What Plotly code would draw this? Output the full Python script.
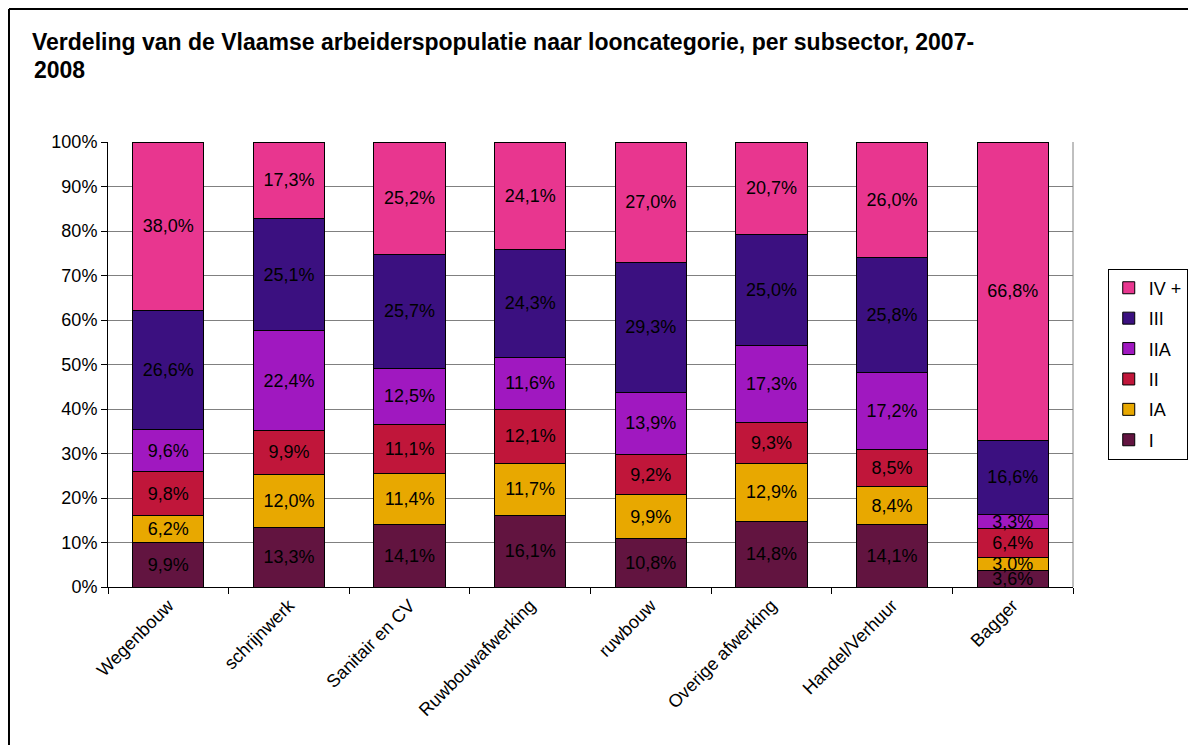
import plotly.graph_objects as go

sectoren = ['Wegenbouw', 'schrijnwerk', 'Sanitair en CV', 'Ruwbouwafwerking',
            'ruwbouw', 'Overige afwerking', 'Handel/Verhuur', 'Bagger']

cat_I = [9.9, 13.3, 14.1, 16.1, 10.8, 14.8, 14.1, 3.6]
cat_IA = [6.2, 12.0, 11.4, 11.7, 9.9, 12.9, 8.4, 3.0]
cat_II = [9.8, 9.9, 11.1, 12.1, 9.2, 9.3, 8.5, 6.4]
cat_IIA = [9.6, 22.4, 12.5, 11.6, 13.9, 17.3, 17.2, 3.3]
cat_III = [26.6, 25.1, 25.7, 24.3, 29.3, 25.0, 25.8, 16.6]
cat_IV = [38.0, 17.3, 25.2, 24.1, 27.0, 20.7, 26.0, 66.8]

reeksen = [
    ('I', cat_I, '#621440'),
    ('IA', cat_IA, '#E8A800'),
    ('II', cat_II, '#C0163A'),
    ('IIA', cat_IIA, '#A018C0'),
    ('III', cat_III, '#3B1080'),
    ('IV +', cat_IV, '#E8368F'),
]

fig = go.Figure()
for i, (naam, waarden, kleur) in enumerate(reeksen):
    fig.add_trace(go.Bar(
        x=sectoren, y=waarden, name=naam, legendgroup=naam,
        legendrank=len(reeksen) - i,
        marker=dict(color=kleur, line=dict(color='black', width=1)),
        text=[f'{v:.1f}%'.replace('.', ',') for v in waarden],
        textposition='inside', insidetextanchor='middle', textangle=0,
        textfont=dict(color='black', size=18),
    ))

# kader rond de grafiek (de pagina heeft 8px marge)
kader = dict(type='line', xref='paper', yref='paper', line=dict(color='black', width=2))
fig.add_shape(x0=-0.1026, y0=1.2989, x1=1.14, y1=1.2989, **kader)
fig.add_shape(x0=-0.1026, y0=1.2989, x1=-0.1026, y1=-0.36, **kader)
# rechterrand van het plotvlak
fig.add_shape(type='line', xref='paper', yref='paper', x0=1, y0=0, x1=1, y1=1,
              line=dict(color='#808080', width=1))

fig.add_annotation(text='<b>2008</b>', xref='paper', yref='paper',
                   x=-0.0788, xanchor='left', y=1.1618, yanchor='middle',
                   showarrow=False, font=dict(size=23, color='black'))

fig.update_layout(
    barmode='stack', barnorm='percent', bargap=0.41,
    width=1188, height=737,
    margin=dict(l=100, r=123, t=134, b=158, autoexpand=False),
    paper_bgcolor='white', plot_bgcolor='white',
    font=dict(family='Liberation Sans, Arial, sans-serif', size=18, color='black'),
    uniformtext=dict(minsize=18, mode='show'),
    title=dict(
        text='<b>Verdeling van de Vlaamse arbeiderspopulatie naar looncategorie, per subsector, 2007-</b>',
        x=24 / 1188, xanchor='left', xref='container',
        y=1 - 34 / 737, yanchor='middle', yref='container',
        font=dict(size=23, color='black'),
    ),
    legend=dict(
        x=1.036, xanchor='left', y=0.501, yanchor='middle',
        bordercolor='black', borderwidth=1, font=dict(size=18),
        traceorder='grouped', tracegroupgap=4,
    ),
    showlegend=True,
)
fig.update_xaxes(
    showline=True, linecolor='black', linewidth=1,
    ticks='outside', ticklen=6, tickson='boundaries', tickcolor='black',
    tickangle=-45, tickfont=dict(size=18),
)
fig.update_yaxes(
    range=[0, 100], dtick=10, ticksuffix='%',
    showline=True, linecolor='black', linewidth=1,
    ticks='outside', ticklen=6, tickcolor='black',
    showgrid=True, gridcolor='#808080', gridwidth=1,
    tickfont=dict(size=18),
)

fig.write_html('out.html')
